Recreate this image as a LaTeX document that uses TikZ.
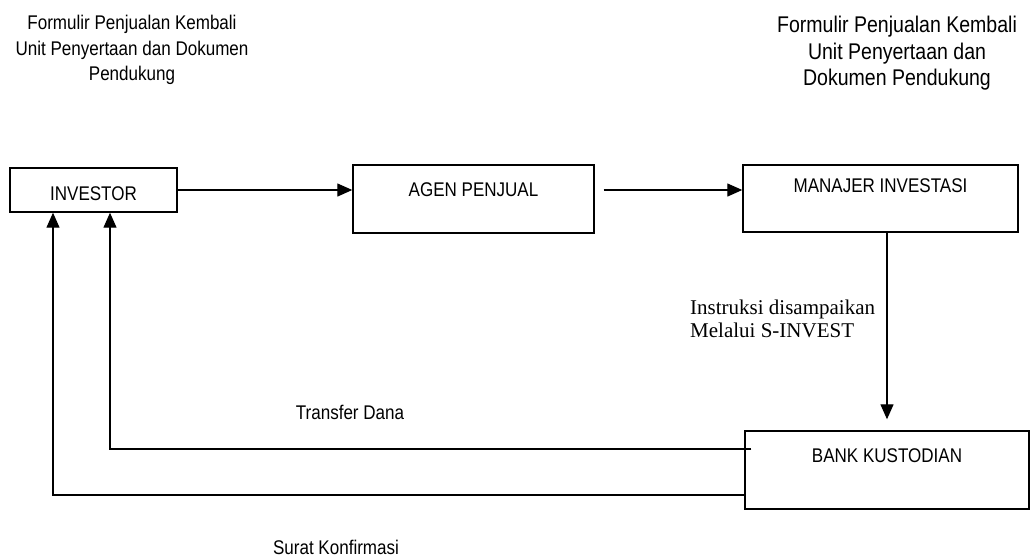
\documentclass[tikz,border=0pt]{standalone}
\usepackage{fontspec}
\setmainfont{Liberation Sans}[FakeStretch=0.86]
\newfontfamily\serifrm{Liberation Serif}
\usetikzlibrary{arrows.meta}
\begin{document}
\begin{tikzpicture}[x=1pt,y=-1pt,>={Triangle[length=15pt,width=13pt]},font=\fontsize{19.8}{25.5}\selectfont,
			box/.style={draw,line width=1.4pt,inner sep=0pt},
			link/.style={->,line width=1.3pt}]
			\useasboundingbox (0,0) rectangle (1030,558);
%			\draw[dashed,thin,gray] (0,0) grid[step=50] (1030,558);
			\node[box,minimum width=167pt,text height=32pt,text depth=12pt] (investor) at (93.5,190) {INVESTOR};
			\node[box,minimum width=241pt,text height=31pt,text depth=37pt] (agen) at (473.5,199) {AGEN PENJUAL};
			\node[box,minimum width=275pt,text height=27pt,text depth=40pt] (manajer) at (880.5,198.5) {MANAJER INVESTASI};
			\node[box,minimum width=284pt,text height=31pt,text depth=47pt] (bank) at (887,470) {BANK KUSTODIAN};
			\node[align=center] (formkiri) at (132,50) {Formulir Penjualan Kembali\\Unit Penyertaan dan Dokumen\\Pendukung};
			\node[align=center,font=\fontsize{22.7}{26.5}\selectfont] (formkanan) at (897,53.5) {Formulir Penjualan Kembali\\Unit Penyertaan dan\\Dokumen Pendukung};
			\node[align=left,anchor=west,inner sep=0pt,font=\serifrm\fontsize{21}{23}\selectfont] (instruksi) at (690,318.5) {Instruksi disampaikan\\Melalui S-INVEST};
			\node (transfer) at (350,412) {Transfer Dana};
			\node (surat) at (336,547) {Surat Konfirmasi};
			\path (agen.east |- investor.east) ++(9,0) coordinate (lanjut);
			\draw[link] (investor.east) -- (investor.east -| agen.west);
			\draw[link] (lanjut) -- (lanjut -| manajer.west);
			\draw[link,shorten >=11pt] (bank.north |- manajer.south) -- (bank.north);
			\draw[link] ([shift={(7pt,21pt)}]bank.west) -| ([xshift=16.5pt]investor.south);
			\draw[link] ([yshift=-25pt]bank.west) -| ([xshift=-40.5pt]investor.south);
		\end{tikzpicture}
\end{document}
